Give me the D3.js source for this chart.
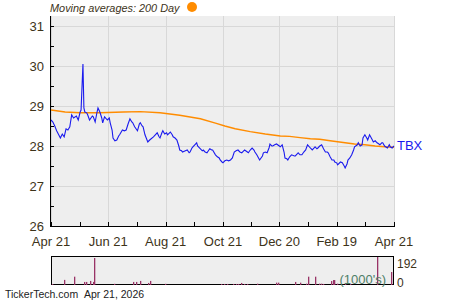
<!DOCTYPE html>
<meta charset="utf-8">
<html>
<head>
<style>
body { margin: 0; background: #fff; }
text { font-family: "Liberation Sans", Arial, sans-serif; }
</style>
</head>
<body>
<svg width="450" height="300"></svg>
<script src="https://cdn.jsdelivr.net/npm/d3@7/dist/d3.min.js"></script>
<script>

// price (TBX)
var priceDates = [
  "2025-04-21","2025-04-23","2025-04-25","2025-04-27","2025-05-01","2025-05-03","2025-05-05","2025-05-07","2025-05-09","2025-05-11",
  "2025-05-13","2025-05-15","2025-05-18","2025-05-20","2025-05-22","2025-05-23","2025-05-25","2025-05-26","2025-05-27","2025-05-29",
  "2025-05-30","2025-06-01","2025-06-04","2025-06-05","2025-06-07","2025-06-09","2025-06-10","2025-06-12","2025-06-14","2025-06-15",
  "2025-06-17","2025-06-20","2025-06-22","2025-06-23","2025-06-25","2025-06-26","2025-06-28","2025-06-30","2025-07-02","2025-07-03",
  "2025-07-06","2025-07-08","2025-07-10","2025-07-12","2025-07-14","2025-07-16","2025-07-17","2025-07-19","2025-07-22","2025-07-24",
  "2025-07-25","2025-07-27","2025-07-28","2025-07-30","2025-08-02","2025-08-04","2025-08-08","2025-08-10","2025-08-12","2025-08-14",
  "2025-08-15","2025-08-17","2025-08-18","2025-08-20","2025-08-22","2025-08-23","2025-08-26","2025-08-28","2025-08-29","2025-08-31",
  "2025-09-02","2025-09-04","2025-09-05","2025-09-07","2025-09-08","2025-09-11","2025-09-13","2025-09-15","2025-09-16","2025-09-18",
  "2025-09-19","2025-09-21","2025-09-23","2025-09-24","2025-09-27","2025-09-29","2025-09-30","2025-10-02","2025-10-04","2025-10-06",
  "2025-10-07","2025-10-09","2025-10-10","2025-10-13","2025-10-15","2025-10-17","2025-10-18","2025-10-20","2025-10-21","2025-10-23",
  "2025-10-25","2025-10-27","2025-10-29","2025-10-31","2025-11-02","2025-11-04","2025-11-06","2025-11-08","2025-11-10","2025-11-12",
  "2025-11-13","2025-11-16","2025-11-17","2025-11-19","2025-11-21","2025-11-23","2025-11-24","2025-11-26","2025-11-29","2025-12-02",
  "2025-12-03","2025-12-05","2025-12-07","2025-12-09","2025-12-10","2025-12-12","2025-12-13","2025-12-15","2025-12-17","2025-12-20",
  "2025-12-21","2025-12-23","2025-12-25","2025-12-26","2025-12-28","2025-12-29","2025-12-31","2026-01-02","2026-01-05","2026-01-06",
  "2026-01-08","2026-01-09","2026-01-11","2026-01-13","2026-01-15","2026-01-17","2026-01-19","2026-01-22","2026-01-24","2026-01-26",
  "2026-01-27","2026-01-29","2026-01-30","2026-02-01","2026-02-03","2026-02-05","2026-02-07","2026-02-09","2026-02-10","2026-02-12",
  "2026-02-14","2026-02-16","2026-02-17","2026-02-19","2026-02-20","2026-02-23","2026-02-25","2026-02-27","2026-02-28","2026-03-02",
  "2026-03-03","2026-03-05","2026-03-07","2026-03-09","2026-03-10","2026-03-13","2026-03-14","2026-03-16","2026-03-18","2026-03-19",
  "2026-03-21","2026-03-23","2026-03-24","2026-03-26","2026-03-29","2026-03-30","2026-04-01","2026-04-03","2026-04-05","2026-04-06",
  "2026-04-08","2026-04-09","2026-04-11","2026-04-14","2026-04-16","2026-04-17","2026-04-19","2026-04-20","2026-04-21"
];
var priceValues = [
  28.65,28.60,28.50,28.38,28.20,28.30,28.23,28.43,28.40,28.48,
  28.78,28.70,28.75,28.65,28.85,28.90,30.05,28.95,28.85,28.83,
  28.78,28.65,28.75,28.73,28.60,28.85,28.95,28.85,28.70,28.58,
  28.73,28.65,28.70,28.58,28.40,28.20,28.13,28.15,28.25,28.28,
  28.40,28.38,28.40,28.55,28.68,28.60,28.58,28.48,28.38,28.55,
  28.58,28.50,28.48,28.28,28.10,28.15,28.23,28.28,28.33,28.23,
  28.20,28.33,28.38,28.30,28.33,28.28,28.35,28.28,28.23,28.20,
  28.15,28.00,27.90,27.88,27.85,27.88,27.90,27.83,27.85,27.95,
  27.98,28.03,28.08,28.00,27.93,27.88,27.90,27.85,27.83,27.90,
  27.93,27.90,27.90,27.78,27.73,27.70,27.65,27.60,27.58,27.63,
  27.65,27.63,27.65,27.70,27.85,27.88,27.90,27.85,27.83,27.88,
  27.90,27.85,27.83,27.90,27.95,27.90,27.85,27.78,27.65,27.75,
  27.83,27.85,27.83,27.95,28.05,28.00,28.00,28.03,28.05,28.00,
  27.98,28.03,27.85,27.70,27.68,27.65,27.73,27.78,27.75,27.75,
  27.80,27.83,27.78,27.78,27.85,27.90,28.03,27.95,27.90,27.95,
  27.98,27.93,27.95,28.00,28.03,27.93,27.85,27.85,27.83,27.73,
  27.65,27.65,27.60,27.58,27.53,27.60,27.58,27.50,27.45,27.55,
  27.65,27.70,27.78,27.90,27.98,28.03,28.08,28.00,28.03,28.20,
  28.28,28.20,28.15,28.28,28.15,28.10,28.13,28.08,28.05,28.03,
  28.08,28.08,28.00,27.95,28.03,27.98,27.95,27.98,28.00
];

// 200 day moving average
var maDates = ["2025-04-21","2025-05-06","2025-05-22","2025-06-12","2025-07-07","2025-07-25","2025-08-15","2025-09-05","2025-09-27",
  "2025-10-13","2025-10-23","2025-11-03","2025-11-19","2025-12-05","2025-12-21","2025-12-31","2026-01-11","2026-01-22","2026-02-01",
  "2026-02-12","2026-02-28","2026-03-10","2026-03-21","2026-04-01","2026-04-11","2026-04-21"];
var maValues = [28.90,28.85,28.83,28.83,28.85,28.86,28.83,28.77,28.68,
  28.57,28.50,28.43,28.36,28.30,28.25,28.24,28.21,28.18,28.17,
  28.13,28.08,28.05,28.03,28.00,27.98,27.97];

// volume (1000's)
var volDates = ["2025-04-22","2025-05-05","2025-05-15","2025-05-26","2025-05-28","2025-06-01","2025-06-05","2025-06-06","2025-06-27","2025-07-17",
  "2025-07-20","2025-07-25","2025-08-02","2025-08-04","2025-08-20","2025-10-19","2025-10-22","2025-10-25","2025-11-01","2025-11-04",
  "2025-11-06","2025-11-09","2025-11-12","2025-11-16","2025-11-26","2025-12-16","2025-12-19","2026-01-06","2026-01-11","2026-01-17",
  "2026-01-19","2026-01-27","2026-01-31","2026-02-02","2026-02-04","2026-02-13","2026-02-15","2026-02-16","2026-02-19","2026-02-28",
  "2026-03-05","2026-04-03","2026-04-18"];
var volValues = [7,35,57,21,21,28,21,185,8,21,
  21,28,14,28,8,7,7,7,7,7,
  7,14,7,7,9,16,16,21,16,9,
  57,57,9,9,7,27,34,34,9,14,
  7,192,89];

var tickDates = ["2025-04-21","2025-06-21","2025-08-21","2025-10-21","2025-12-20","2026-02-19","2026-04-21"];
var tickLabels = ["Apr 21","Jun 21","Aug 21","Oct 21","Dec 20","Feb 19","Apr 21"];
var yTicks = [26,27,28,29,30,31];

var parse = d3.timeParse("%Y-%m-%d");
var svg = d3.select("svg");
var textColor = "#3d3319";

var x = d3.scaleTime()
    .domain([parse("2025-04-21"), parse("2026-04-21")])
    .range([51, 394]);
var y = d3.scaleLinear().domain([26, 31.25]).range([226, 16]);
var yv = d3.scaleLinear().domain([0, 192]).range([285, 257]);

// plot background
svg.append("rect").attr("x", 51).attr("y", 16).attr("width", 343).attr("height", 210).attr("fill", "#eeeeee");

var ticks = tickDates.map(parse);
var minor = [];
for (var i = 0; i < ticks.length - 1; i++) minor.push(new Date((+ticks[i] + +ticks[i + 1]) / 2));

// grid
svg.append("g").selectAll("line").data(ticks).enter().append("line")
    .attr("x1", function(d) { return Math.round(x(d)) + 0.5; })
    .attr("x2", function(d) { return Math.round(x(d)) + 0.5; })
    .attr("y1", 16).attr("y2", 226)
    .attr("stroke", "#d8d8d8").attr("stroke-width", 1);
svg.append("g").selectAll("line").data(yTicks).enter().append("line")
    .attr("x1", 51).attr("x2", 394)
    .attr("y1", function(d) { return Math.round(y(d)) + 0.5; })
    .attr("y2", function(d) { return Math.round(y(d)) + 0.5; })
    .attr("stroke", "#d8d8d8").attr("stroke-width", 1);

// moving average
var ma = maDates.map(function(d, i) { return { date: parse(d), v: maValues[i] }; });
svg.append("path").datum(ma)
    .attr("fill", "none").attr("stroke", "#ff8c00").attr("stroke-width", 1.4)
    .attr("d", d3.line().x(function(d) { return x(d.date); }).y(function(d) { return y(d.v); }));

// price
var price = priceDates.map(function(d, i) { return { date: parse(d), v: priceValues[i] }; });
svg.append("path").datum(price)
    .attr("fill", "none").attr("stroke", "#1a1aee").attr("stroke-width", 1.1)
    .attr("d", d3.line().x(function(d) { return x(d.date); }).y(function(d) { return y(d.v); }));

// axes
svg.append("line").attr("x1", 50.5).attr("x2", 50.5).attr("y1", 16).attr("y2", 227).attr("stroke", "#000");
svg.append("line").attr("x1", 50).attr("x2", 395).attr("y1", 226.5).attr("y2", 226.5).attr("stroke", "#000");

var yMinor = d3.range(26, 31.01, 0.5);
svg.append("g").selectAll("line").data(yMinor).enter().append("line")
    .attr("x1", 51).attr("x2", 54)
    .attr("y1", function(d) { return Math.round(y(d)) + 0.5; })
    .attr("y2", function(d) { return Math.round(y(d)) + 0.5; })
    .attr("stroke", "#000");
svg.append("g").selectAll("line").data(ticks.concat(minor)).enter().append("line")
    .attr("x1", function(d) { return Math.round(x(d)) + 0.5; })
    .attr("x2", function(d) { return Math.round(x(d)) + 0.5; })
    .attr("y1", 226).attr("y2", 222)
    .attr("stroke", "#000");

svg.append("g").selectAll("text").data(yTicks).enter().append("text")
    .attr("x", 44).attr("y", function(d) { return y(d) + 5; })
    .attr("text-anchor", "end").attr("font-size", 13).attr("fill", textColor)
    .text(function(d) { return d; });
svg.append("g").selectAll("text").data(ticks).enter().append("text")
    .attr("x", function(d) { return x(d); }).attr("y", 246)
    .attr("text-anchor", "middle").attr("font-size", 13).attr("fill", textColor)
    .text(function(d, i) { return tickLabels[i]; });

// legend
svg.append("text").attr("x", 50).attr("y", 12).attr("font-size", 10.9).attr("font-style", "italic")
    .attr("fill", textColor).text("Moving averages: 200 Day");
svg.append("circle").attr("cx", 192).attr("cy", 7).attr("r", 5).attr("fill", "#ff8c00");

svg.append("text").attr("x", 397).attr("y", 150).attr("font-size", 13).attr("fill", "#1a1aee").text("TBX");

// volume panel
svg.append("rect").attr("x", 51.5).attr("y", 256.5).attr("width", 342).attr("height", 28)
    .attr("fill", "#eeeeee").attr("stroke", "#000");
var vol = volDates.map(function(d, i) { return { date: parse(d), v: volValues[i] }; });
svg.append("g").selectAll("rect").data(vol).enter().append("rect")
    .attr("x", function(d) { return Math.round(x(d.date)); })
    .attr("width", 1.3)
    .attr("y", function(d) { return yv(d.v); })
    .attr("height", function(d) { return 285 - yv(d.v); })
    .attr("fill", "#993366");
svg.append("text").attr("x", 386).attr("y", 284).attr("text-anchor", "end").attr("font-size", 13)
    .attr("fill", "#4f7f68").text("(1000's)");
svg.append("text").attr("x", 397).attr("y", 268).attr("font-size", 12).attr("fill", textColor).text("192");
svg.append("text").attr("x", 397).attr("y", 287).attr("font-size", 12).attr("fill", textColor).text("0");

svg.append("text").attr("x", 5).attr("y", 298).attr("font-size", 10.5).attr("fill", "#222").text("TickerTech.com");
svg.append("text").attr("x", 84).attr("y", 298).attr("font-size", 10.5).attr("fill", "#222").text("Apr 21, 2026");
</script>
</body>
</html>
